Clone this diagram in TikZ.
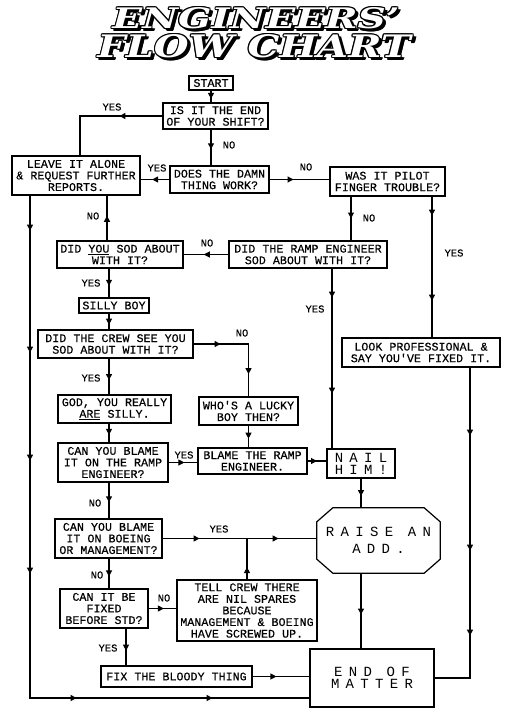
\documentclass[tikz,border=0pt]{standalone}
\usepackage{fontspec}
\usepackage{graphicx}
\setmonofont{Liberation Mono}[FakeBold=0.35]
\newfontfamily\widefont[LetterSpace=45]{Liberation Mono}
\newfontfamily\titlefont{DejaVu Serif}
\usetikzlibrary{arrows.meta,decorations.markings}
\newcommand\boxfont{\fontsize{11.7}{11.6}\selectfont\ttfamily}
\newcommand\lblfont{\fontsize{10.5}{11}\selectfont\ttfamily}
\newcommand\bigfont{\fontsize{14}{12}\selectfont\widefont}
\newcommand\titleA{\resizebox{287pt}{21pt}{\titlefont\bfseries\itshape ENGINEERS’}}
\newcommand\titleB{\resizebox{313pt}{23pt}{\titlefont\bfseries\itshape FLOW CHART}}

\begin{document}
\begin{tikzpicture}[x=1pt, y=-1pt,
    box/.style={draw, line width=1.2pt, align=center, inner sep=1pt, font=\boxfont},
    wide/.style={box, font=\bigfont},
    lbl/.style={font=\lblfont, inner sep=0pt},
    wire/.style={line width=1.1pt},
    arr/.style={postaction={decorate, decoration={markings,
        mark=at position #1 with {\arrow{Triangle[length=6pt,width=6pt]}}}}}]
\useasboundingbox (0,0) rectangle (509,720);

\foreach \dx/\dy [count=\i] in {3/-3, 2/-2, 3.5/-2, 2/-3.5, 1.2/0, -1.2/0, 0/1.2, 0/-1.2, 0.9/0.9, -0.9/0.9, 0.9/-0.9, -0.9/-0.9} {
  \node[inner sep=0pt, xshift=\dx pt, yshift=\dy pt] (sa\i) at (256,18) {\titleA};
  \node[inner sep=0pt, xshift=\dx pt, yshift=\dy pt] (sb\i) at (254,46) {\titleB};
}
\node[inner sep=0pt, text=white] (title1) at (256,18) {\titleA};
\node[inner sep=0pt, text=white] (title2) at (254,46) {\titleB};

\node[box, minimum width=44pt, minimum height=14pt] (start) at (211,83) {START};
\node[box, minimum width=105pt, minimum height=26pt] (endshift) at (215.5,116) {IS IT THE END\\OF YOUR SHIFT?};
\node[box, minimum width=99pt, minimum height=27pt] (works) at (219.5,179.5) {DOES THE DAMN\\THING WORK?};
\node[box, minimum width=128pt, minimum height=39pt] (leave) at (76,175.5) {LEAVE IT ALONE\\\& REQUEST FURTHER\\REPORTS.};
\node[box, minimum width=115pt, minimum height=29pt] (pilot) at (387.5,181.5) {WAS IT PILOT\\FINGER TROUBLE?};
\node[box, minimum width=126pt, minimum height=27pt] (didyou) at (120,254.5) {DID \underline{YOU} SOD ABOUT\\WITH IT?};
\node[box, minimum width=158pt, minimum height=27pt] (ramp) at (308,254.5) {DID THE RAMP ENGINEER\\SOD ABOUT WITH IT?};
\node[box, line width=1.6pt, minimum width=70pt, minimum height=15pt] (silly) at (114,305.5) {SILLY BOY};
\node[box, minimum width=155pt, minimum height=28pt] (crew) at (115.5,344) {DID THE CREW SEE YOU\\SOD ABOUT WITH IT?};
\node[box, minimum width=158pt, minimum height=29pt] (look) at (421,352.5) {LOOK PROFESSIONAL \&\\SAY YOU'VE FIXED IT.};
\node[box, minimum width=113pt, minimum height=28pt] (god) at (114.5,409) {GOD, YOU REALLY\\\underline{ARE} SILLY.};
\node[box, minimum width=99pt, minimum height=28pt] (lucky) at (248.5,411) {WHO'S A LUCKY\\BOY THEN?};
\node[box, minimum width=110pt, minimum height=39pt] (blameramp) at (113,462.5) {CAN YOU BLAME\\IT ON THE RAMP\\ENGINEER?};
\node[box, minimum width=109pt, minimum height=26pt] (blamethe) at (252.5,461) {BLAME THE RAMP\\ENGINEER.};
\node[wide, minimum width=68pt, minimum height=29pt] (nail) at (361,463.5) {NAIL\\HIM!};
\node[font=\fontsize{14}{17}\selectfont\widefont, align=center, inner sep=0pt, minimum width=123pt, minimum height=65pt] (add) at (378.5,540.5) {RAISE AN\\ADD.};
\node[box, minimum width=107pt, minimum height=39pt] (boeing) at (108.5,538.5) {CAN YOU BLAME\\IT ON BOEING\\OR MANAGEMENT?};
\node[box, minimum width=88pt, minimum height=39pt] (fixed) at (104,608.5) {CAN IT BE\\FIXED\\BEFORE STD?};
\node[box, minimum width=140pt, minimum height=61pt] (tell) at (247,610.5) {TELL CREW THERE\\ARE NIL SPARES\\BECAUSE\\MANAGEMENT \& BOEING\\HAVE SCREWED UP.};
\node[box, minimum width=151pt, minimum height=21pt] (fix) at (176.5,676.5) {FIX THE BLOODY THING};
\node[wide, minimum width=124pt, minimum height=58pt] (matter) at (372,678) {END OF\\MATTER};

\draw[line width=1.2pt] ([xshift=16pt]add.north west) -- ([xshift=-16pt]add.north east)
  -- ([yshift=-14pt]add.north east) -- ([yshift=14pt]add.south east)
  -- ([xshift=-16pt]add.south east) -- ([xshift=16pt]add.south west)
  -- ([yshift=14pt]add.south west) -- ([yshift=-14pt]add.north west) -- cycle;

\coordinate (railL) at (30,698);
\coordinate (colA) at (109,0);

\draw[wire, arr=0.7] (start.south) -- (start.south |- endshift.north);
\draw[wire, arr=43pt] (endshift.west) -| ([xshift=4pt]leave.north);
\draw[wire, arr=0.55] (start |- endshift.south) -- (start |- works.north);
\draw[wire, arr=0.6] (works.west) -- (works.west -| leave.east);
\draw[wire, arr=0.4] (works.east) -- (works.east -| pilot.west);
\draw[wire, arr=35pt, arr=157pt, arr=265pt, arr=378pt, arr=549pt, arr=685pt]
  (leave.south -| railL) -- (railL) -- (railL -| matter.west);
\draw[wire, arr=0.55] ([xshift=-13pt]didyou.north) -- ([xshift=-13pt]didyou.north |- leave.south);
\draw[wire, arr=0.5] ([xshift=-36.5pt]pilot.south) -- ([xshift=-36.5pt]pilot.south |- ramp.north);
\draw[wire, arr=19pt, arr=104pt] ([xshift=44.5pt]pilot.south) -- ([xshift=44.5pt]pilot.south |- look.north);
\draw[wire, arr=0.55] (ramp.west) -- (ramp.west -| didyou.east);
\draw[wire, arr=0.6] (didyou.south -| colA) -- (silly.north -| colA);
\draw[wire, arr=0.7] (silly.south -| colA) -- (crew.north -| colA);
\draw[wire, arr=27pt, arr=85pt] (crew.east) -| (lucky.north);
\draw[wire, arr=29pt, arr=125pt] ([xshift=24pt]ramp.south) -- ([xshift=24pt]ramp.south |- nail.north);
\draw[wire, arr=0.6] (crew.south -| colA) -- (god.north -| colA);
\draw[wire, arr=0.6] (god.south -| colA) -- (blameramp.north -| colA);
\draw[wire, arr=0.6] (lucky.south) -- (lucky.south |- blamethe.north);
\draw[wire, arr=0.55] (blameramp.east) -- (blameramp.east -| blamethe.west);
\draw[wire, arr=0.5] (blamethe.east) -- (blamethe.east -| nail.west);
\draw[wire, arr=0.6] (nail.south) -- (nail.south |- add.north);
\draw[wire, arr=37pt, arr=116pt] (boeing.east) -- (boeing.east -| add.west);
\draw[wire, arr=0.3] (tell.north) -- (tell.north |- boeing.east);
\draw[wire, arr=0.55] (blameramp.south -| colA) -- (boeing.north -| colA);
\draw[wire, arr=0.6] (boeing.south -| colA) -- (fixed.north -| colA);
\draw[wire, arr=0.55] (fixed.east) -- (fixed.east -| tell.west);
\draw[wire, arr=0.6] ([xshift=22pt]fixed.south) -- ([xshift=22pt]fixed.south |- fix.north);
\draw[wire, arr=0.42] (fix.east) -- (fix.east -| matter.west);
\draw[wire, arr=0.55] (nail |- add.south) -- (nail |- matter.north);
\draw[wire, arr=68pt, arr=183pt, arr=268pt] ([xshift=49pt]look.south) |- (matter.east);

\node[lbl] (l1) at (112,107) {YES};
\node[lbl] (l2) at (229,145) {NO};
\node[lbl] (l3) at (157,168) {YES};
\node[lbl] (l4) at (306,167) {NO};
\node[lbl] (l5) at (93,216) {NO};
\node[lbl] (l6) at (369,218) {NO};
\node[lbl] (l7) at (454,253) {YES};
\node[lbl] (l8) at (207,243) {NO};
\node[lbl] (l9) at (91,283) {YES};
\node[lbl] (l10) at (242,333) {NO};
\node[lbl] (l11) at (315,309) {YES};
\node[lbl] (l12) at (91,378) {YES};
\node[lbl] (l13) at (184,455) {YES};
\node[lbl] (l14) at (95,503) {NO};
\node[lbl] (l15) at (219,529) {YES};
\node[lbl] (l16) at (97,575) {NO};
\node[lbl] (l17) at (164,598) {NO};
\node[lbl] (l18) at (108,648) {YES};
\end{tikzpicture}
\end{document}
